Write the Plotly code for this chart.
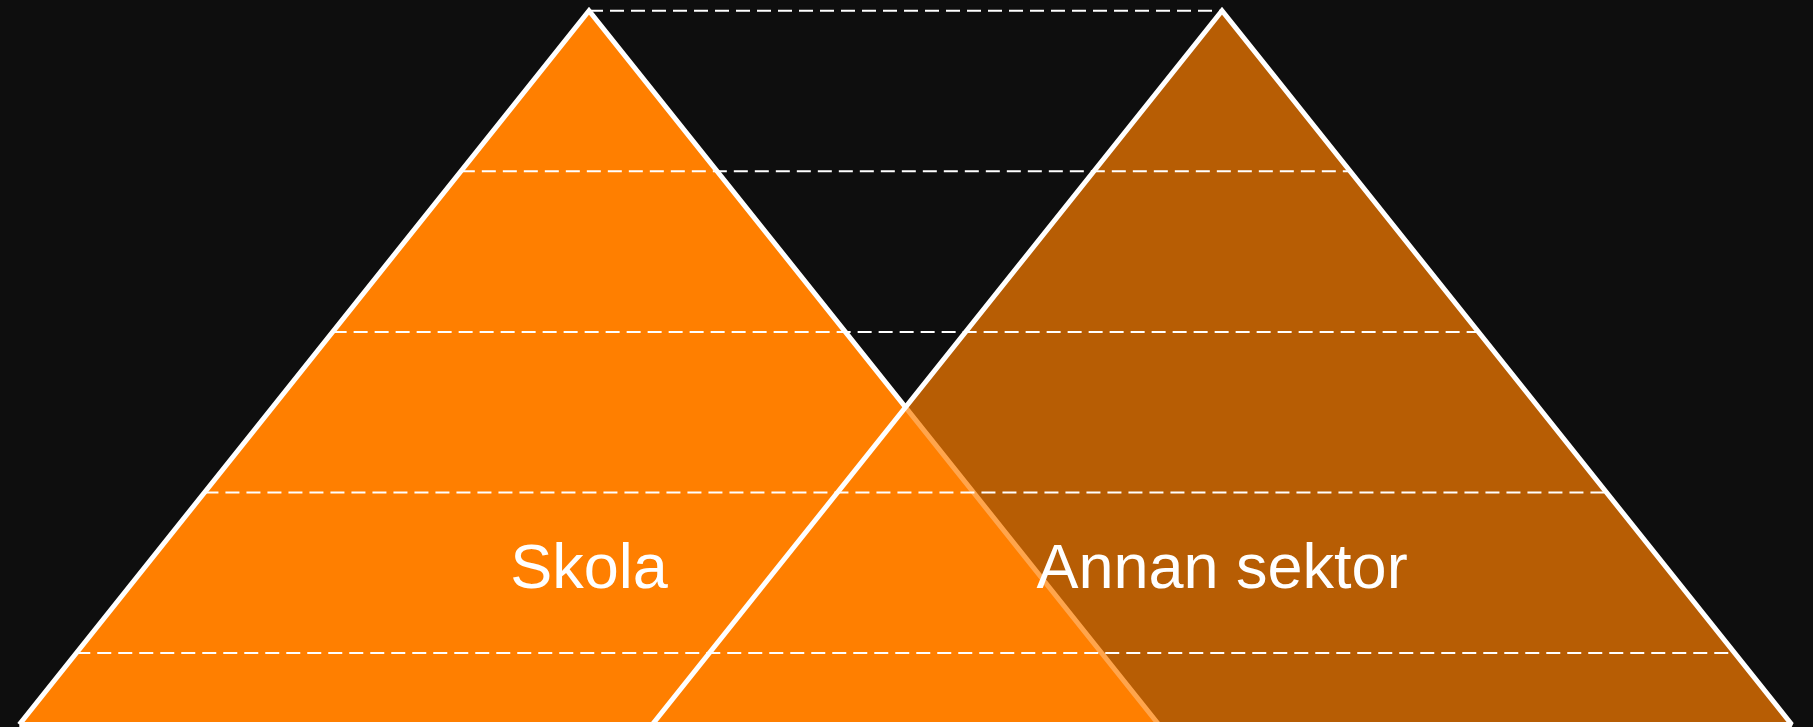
import plotly.graph_objects as go

# ---- data ----
categories = ["Skola", "Annan sektor"]
values = [100, 100]                      # triangle heights
levels = [10, 32.5, 55, 77.5, 100]       # dashed guide levels

# ---- style ----
BG = "#0e0e0e"
fills = ["rgb(255,127,0)", "rgba(255,127,0,0.7)"]
HALF = 0.9          # half base width in category units
LABEL_FRAC = 0.2135 # label height as fraction of bar value

xs = list(range(len(categories)))

fig = go.Figure()

for i, (c, v) in enumerate(zip(categories, values)):
    fig.add_trace(go.Scatter(
        x=[xs[i] - HALF, xs[i], xs[i] + HALF, xs[i] - HALF],
        y=[0, v, 0, 0],
        fill="toself", fillcolor=fills[i],
        mode="lines", line=dict(color="white", width=5),
        hoverinfo="skip", showlegend=False, name=c,
    ))

for L in levels:
    x0 = xs[0] - HALF * (1 - L / values[0])
    x1 = xs[-1] + HALF * (1 - L / values[-1])
    fig.add_trace(go.Scatter(
        x=[x0, x1], y=[L, L], mode="lines",
        line=dict(color="white", width=2, dash="14px,7px"),
        hoverinfo="skip", showlegend=False,
    ))

fig.add_trace(go.Scatter(
    x=xs, y=[v * LABEL_FRAC for v in values],
    mode="text", text=categories,
    textfont=dict(color="white", size=63, family="Liberation Sans, Arial, sans-serif"),
    textposition="middle center",
    hoverinfo="skip", showlegend=False,
))

PX_PER_UNIT = (724.5 - 10.7) / 100
fig.update_layout(
    width=1813, height=727,
    margin=dict(l=0, r=0, t=0, b=0),
    paper_bgcolor=BG, plot_bgcolor=BG,
    showlegend=False,
    xaxis=dict(range=[-589 / 633, (1813 - 589) / 633], visible=False, fixedrange=True),
    yaxis=dict(range=[-(727 - 724.5) / PX_PER_UNIT, 100 + 10.7 / PX_PER_UNIT],
               visible=False, fixedrange=True),
)

fig.write_html("out.html", config={"displayModeBar": False},
               post_script="document.body.style.margin='0';document.body.style.overflow='hidden';")
